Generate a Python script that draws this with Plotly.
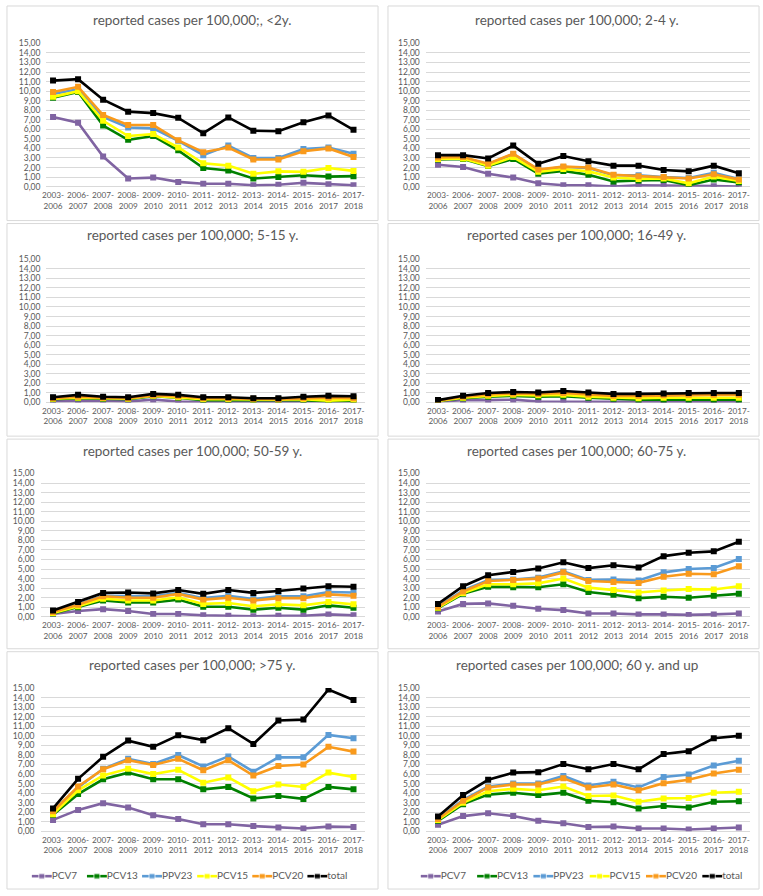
import plotly.graph_objects as go

# ---------------- data ----------------
categories = ["2003-2006", "2006-2007", "2007-2008", "2008-2009", "2009-2010", "2010-2011",
              "2011-2012", "2012-2013", "2013-2014", "2014-2015", "2015-2016", "2016-2017", "2017-2018"]
tick_labels = ["2003-<br>2006", "2006-<br>2007", "2007-<br>2008", "2008-<br>2009", "2009-<br>2010",
               "2010-<br>2011", "2011-<br>2012", "2012-<br>2013", "2013-<br>2014", "2014-<br>2015",
               "2015-<br>2016", "2016-<br>2017", "2017-<br>2018"]
series_names = ["PCV7", "PCV13", "PPV23", "PCV15", "PCV20", "total"]
panel_titles = ["reported cases per 100,000;, <2y.", "reported cases per 100,000; 2-4 y.",
                "reported cases per 100,000; 5-15 y.", "reported cases per 100,000; 16-49 y.",
                "reported cases per 100,000; 50-59 y.", "reported cases per 100,000; 60-75 y.",
                "reported cases per 100,000; >75 y.", "reported cases per 100,000; 60 y. and up"]

# <2 y
u2_pcv7 = [7.3, 6.7, 3.15, 0.85, 0.95, 0.5, 0.3, 0.3, 0.15, 0.2, 0.4, 0.25, 0.15]
u2_pcv13 = [9.3, 9.9, 6.4, 4.9, 5.3, 3.8, 1.95, 1.7, 0.85, 1.0, 1.2, 1.05, 1.1]
u2_ppv23 = [9.7, 10.2, 7.3, 6.2, 6.1, 4.8, 3.3, 4.3, 3.0, 3.0, 3.95, 4.1, 3.45]
u2_pcv15 = [9.4, 10.0, 6.9, 5.3, 5.5, 4.1, 2.45, 2.2, 1.35, 1.6, 1.55, 1.95, 1.65]
u2_pcv20 = [9.9, 10.45, 7.5, 6.45, 6.45, 4.85, 3.6, 4.1, 2.85, 2.85, 3.7, 4.0, 3.1]
u2_total = [11.1, 11.25, 9.1, 7.85, 7.7, 7.2, 5.6, 7.25, 5.85, 5.8, 6.75, 7.45, 5.95]

# 2-4 y
a24_pcv7 = [2.3, 2.05, 1.35, 0.95, 0.35, 0.15, 0.15, 0.0, 0.15, 0.15, 0.1, 0.05, 0.0]
a24_pcv13 = [2.85, 2.9, 2.15, 2.9, 1.35, 1.65, 1.25, 0.55, 0.65, 0.7, 0.15, 0.75, 0.45]
a24_ppv23 = [3.0, 3.05, 2.35, 3.4, 1.75, 2.05, 1.95, 1.2, 1.2, 1.0, 0.9, 1.45, 0.8]
a24_pcv15 = [2.9, 2.95, 2.2, 3.1, 1.55, 1.85, 1.6, 0.95, 0.8, 0.85, 0.35, 1.05, 0.6]
a24_pcv20 = [3.05, 3.1, 2.4, 3.45, 1.8, 2.1, 2.0, 1.25, 1.1, 1.0, 0.85, 1.3, 0.75]
a24_total = [3.3, 3.3, 2.95, 4.3, 2.4, 3.2, 2.65, 2.2, 2.2, 1.75, 1.6, 2.2, 1.4]

# 5-15 y
a515_pcv7 = [0.15, 0.2, 0.2, 0.1, 0.3, 0.1, 0.05, 0.1, 0.05, 0.05, 0.1, 0.1, 0.1]
a515_pcv13 = [0.35, 0.45, 0.4, 0.35, 0.65, 0.5, 0.25, 0.25, 0.2, 0.2, 0.25, 0.15, 0.2]
a515_ppv23 = [0.5, 0.65, 0.5, 0.45, 0.75, 0.65, 0.45, 0.45, 0.4, 0.4, 0.5, 0.55, 0.5]
a515_pcv15 = [0.4, 0.5, 0.45, 0.4, 0.7, 0.55, 0.35, 0.35, 0.3, 0.3, 0.35, 0.2, 0.3]
a515_pcv20 = [0.45, 0.6, 0.5, 0.45, 0.75, 0.65, 0.45, 0.45, 0.4, 0.35, 0.45, 0.5, 0.45]
a515_total = [0.55, 0.8, 0.6, 0.55, 0.9, 0.8, 0.55, 0.55, 0.45, 0.45, 0.6, 0.7, 0.65]

# 16-49 y
a1649_pcv7 = [0.1, 0.25, 0.25, 0.3, 0.1, 0.1, 0.05, 0.1, 0.05, 0.05, 0.05, 0.05, 0.05]
a1649_pcv13 = [0.15, 0.45, 0.6, 0.7, 0.6, 0.65, 0.5, 0.4, 0.3, 0.3, 0.3, 0.3, 0.3]
a1649_ppv23 = [0.2, 0.6, 0.9, 1.0, 0.95, 1.05, 0.9, 0.75, 0.75, 0.8, 0.85, 0.85, 0.85]
a1649_pcv15 = [0.15, 0.5, 0.7, 0.8, 0.75, 0.8, 0.6, 0.5, 0.45, 0.5, 0.5, 0.5, 0.5]
a1649_pcv20 = [0.2, 0.6, 0.85, 0.95, 0.9, 1.0, 0.85, 0.7, 0.7, 0.75, 0.8, 0.8, 0.8]
a1649_total = [0.25, 0.7, 1.0, 1.1, 1.05, 1.2, 1.05, 0.9, 0.9, 0.95, 1.0, 1.0, 1.0]

# 50-59 y
a5059_pcv7 = [0.3, 0.6, 0.8, 0.6, 0.3, 0.3, 0.15, 0.1, 0.05, 0.1, 0.1, 0.25, 0.15]
a5059_pcv13 = [0.35, 1.0, 1.7, 1.5, 1.5, 1.8, 1.05, 1.05, 0.75, 0.95, 0.75, 1.2, 0.95]
a5059_ppv23 = [0.5, 1.3, 2.2, 2.2, 2.15, 2.5, 1.95, 2.2, 1.85, 2.15, 2.15, 2.6, 2.55]
a5059_pcv15 = [0.4, 1.1, 1.9, 1.7, 1.7, 2.05, 1.35, 1.45, 1.1, 1.3, 1.2, 1.55, 1.3]
a5059_pcv20 = [0.5, 1.25, 2.15, 2.0, 2.0, 2.4, 1.8, 2.0, 1.7, 1.95, 1.95, 2.35, 2.2]
a5059_total = [0.65, 1.55, 2.5, 2.55, 2.45, 2.8, 2.4, 2.8, 2.5, 2.7, 2.95, 3.2, 3.15]

# 60-75 y
a6075_pcv7 = [0.55, 1.35, 1.4, 1.15, 0.85, 0.7, 0.35, 0.35, 0.25, 0.25, 0.2, 0.25, 0.35]
a6075_pcv13 = [0.9, 2.4, 3.15, 3.1, 3.1, 3.4, 2.6, 2.3, 1.95, 2.1, 2.0, 2.2, 2.4]
a6075_ppv23 = [1.1, 2.75, 3.85, 3.9, 4.1, 4.75, 3.85, 3.9, 3.8, 4.65, 5.0, 5.1, 6.05]
a6075_pcv15 = [0.95, 2.5, 3.4, 3.4, 3.5, 4.0, 3.05, 2.8, 2.55, 2.75, 2.9, 2.85, 3.2]
a6075_pcv20 = [1.05, 2.65, 3.75, 3.85, 4.0, 4.65, 3.75, 3.65, 3.55, 4.2, 4.5, 4.45, 5.3]
a6075_total = [1.35, 3.2, 4.35, 4.7, 5.05, 5.7, 5.1, 5.4, 5.15, 6.35, 6.7, 6.85, 7.85]

# >75 y
o75_pcv7 = [1.2, 2.25, 2.95, 2.5, 1.7, 1.3, 0.75, 0.75, 0.55, 0.4, 0.3, 0.5, 0.45]
o75_pcv13 = [1.75, 3.9, 5.45, 6.15, 5.45, 5.45, 4.4, 4.65, 3.45, 3.7, 3.4, 4.65, 4.4]
o75_ppv23 = [2.1, 4.6, 6.55, 7.6, 7.05, 8.0, 6.8, 7.85, 6.25, 7.75, 7.75, 10.1, 9.75]
o75_pcv15 = [1.8, 4.3, 5.85, 6.55, 6.0, 6.45, 5.1, 5.65, 4.2, 4.9, 4.65, 6.15, 5.7]
o75_pcv20 = [2.1, 4.7, 6.5, 7.45, 6.95, 7.6, 6.4, 7.45, 5.85, 6.85, 7.0, 8.85, 8.35]
o75_total = [2.4, 5.5, 7.8, 9.5, 8.85, 10.05, 9.55, 10.8, 9.15, 11.6, 11.7, 14.85, 13.75]

# 60 y and up
o60_pcv7 = [0.7, 1.6, 1.9, 1.6, 1.1, 0.85, 0.45, 0.5, 0.3, 0.3, 0.2, 0.3, 0.4]
o60_pcv13 = [1.1, 2.85, 3.85, 4.05, 3.8, 4.05, 3.2, 3.05, 2.4, 2.65, 2.5, 3.1, 3.15]
o60_ppv23 = [1.35, 3.3, 4.7, 5.0, 5.0, 5.8, 4.8, 5.2, 4.6, 5.7, 5.95, 6.9, 7.4]
o60_pcv15 = [1.2, 3.0, 4.2, 4.45, 4.3, 4.7, 3.7, 3.75, 3.1, 3.45, 3.5, 4.05, 4.15]
o60_pcv20 = [1.3, 3.2, 4.6, 4.9, 4.9, 5.55, 4.6, 4.9, 4.3, 5.05, 5.4, 6.05, 6.45]
o60_total = [1.55, 3.8, 5.4, 6.15, 6.2, 7.05, 6.5, 7.05, 6.5, 8.1, 8.4, 9.75, 10.0]

panels_data = [
    [u2_pcv7, u2_pcv13, u2_ppv23, u2_pcv15, u2_pcv20, u2_total],
    [a24_pcv7, a24_pcv13, a24_ppv23, a24_pcv15, a24_pcv20, a24_total],
    [a515_pcv7, a515_pcv13, a515_ppv23, a515_pcv15, a515_pcv20, a515_total],
    [a1649_pcv7, a1649_pcv13, a1649_ppv23, a1649_pcv15, a1649_pcv20, a1649_total],
    [a5059_pcv7, a5059_pcv13, a5059_ppv23, a5059_pcv15, a5059_pcv20, a5059_total],
    [a6075_pcv7, a6075_pcv13, a6075_ppv23, a6075_pcv15, a6075_pcv20, a6075_total],
    [o75_pcv7, o75_pcv13, o75_ppv23, o75_pcv15, o75_pcv20, o75_total],
    [o60_pcv7, o60_pcv13, o60_ppv23, o60_pcv15, o60_pcv20, o60_total],
]

# ---------------- style / layout ----------------
W, H = 763, 896
FONT = "Lato, 'Open Sans', sans-serif"
TXT = "#595959"
GRID = "#d9d9d9"
series_colors = ["#8064A2", "#008000", "#5B9BD5", "#FFFF00", "#F99A1C", "#000000"]

# plot-area pixel boxes per row (top, bottom) and per column
row_px = [(38.7, 183.7), (257.0, 402.0), (473.7, 618.7), (690.7, 835.7)]
title_px = [15, 233, 451, 667]
frame_rows = [(1, 218), (221, 436), (439, 651), (654, 894)]
frame_cols = [(3, 376), (386, 759)]
title_cx = [189, 576]

def col_geom(col, row):
    if col == 0:
        x0 = 42.7 if row < 2 else 36.7
        x1, p0, s = 363.0, 49.3, 25.17
    else:
        x0, x1, p0, s = 424.0, 750.3, 436.3, 25.2
    return x0, x1, [(x0 - p0) / s, (x1 - p0) / s]

fig = go.Figure()
layout = dict(
    width=W, height=H, margin=dict(l=0, r=0, t=0, b=0),
    paper_bgcolor="white", plot_bgcolor="rgba(0,0,0,0)",
    separators=",.", showlegend=False,
    font=dict(family=FONT, color=TXT),
)
annotations = []
shapes = []

for p in range(8):
    row, col = p // 2, p % 2
    n = p + 1
    xa = "x" if n == 1 else f"x{n}"
    ya = "y" if n == 1 else f"y{n}"
    x0, x1, xr = col_geom(col, row)
    top, bot = row_px[row]
    layout["xaxis" if n == 1 else f"xaxis{n}"] = dict(
        domain=[x0 / W, x1 / W], anchor=ya, type="category",
        range=xr, tickvals=categories, ticktext=tick_labels, tickangle=0,
        tickfont=dict(size=8.2, color=TXT, family=FONT), showgrid=False,
        showline=False, zeroline=False, ticks="", ticklabelstandoff=2,
    )
    layout["yaxis" if n == 1 else f"yaxis{n}"] = dict(
        domain=[1 - bot / H, 1 - top / H], anchor=xa,
        range=[0, 15.01], dtick=1, tick0=0, tickformat=".2f",
        tickfont=dict(size=8.5, color=TXT, family=FONT),
        showgrid=True, gridcolor=GRID, gridwidth=1,
        zeroline=True, zerolinecolor=GRID, zerolinewidth=1,
        showline=False, ticks="", ticklabelstandoff=5,
    )
    for name, vals, c in zip(series_names, panels_data[p], series_colors):
        fig.add_trace(go.Scatter(
            x=categories, y=vals, name=name, mode="lines+markers",
            line=dict(color=c, width=2.6),
            marker=dict(symbol="square", size=6, color=c),
            xaxis=xa, yaxis=ya, showlegend=False,
        ))
    annotations.append(dict(
        text=panel_titles[p], xref="paper", yref="paper",
        x=title_cx[col] / W, y=1 - title_px[row] / H,
        xanchor="center", yanchor="middle", showarrow=False,
        font=dict(size=13.5, color=TXT, family=FONT),
    ))
    fx0, fx1 = frame_cols[col]
    fy0, fy1 = frame_rows[row]
    shapes.append(dict(
        type="rect", xref="paper", yref="paper",
        x0=fx0 / W, x1=fx1 / W, y0=1 - fy1 / H, y1=1 - fy0 / H,
        line=dict(color=GRID, width=1), fillcolor="rgba(0,0,0,0)", layer="below",
    ))

# ---------------- legends (bottom row, one per panel) ----------------
layout["xaxis9"] = dict(domain=[0, 1], anchor="y9", range=[0, W], visible=False, fixedrange=True)
layout["yaxis9"] = dict(domain=[0, 1], anchor="x9", range=[H, 0], visible=False, fixedrange=True)
LEG_Y = 881
leg_starts = [38, 429]
leg_steps = [55.4, 56.6]
for side in range(2):
    for i, (name, c) in enumerate(zip(series_names, series_colors)):
        mx = leg_starts[side] + i * leg_steps[side]
        fig.add_trace(go.Scatter(
            x=[mx - 10, mx, mx + 10], y=[LEG_Y] * 3, mode="lines+markers+text",
            line=dict(color=c, width=2.6),
            marker=dict(symbol="square", size=[0, 6, 0], color=c),
            text=["", "", name], textposition="middle right",
            textfont=dict(size=10, color=TXT, family=FONT),
            xaxis="x9", yaxis="y9", showlegend=False, hoverinfo="skip",
        ))

layout["annotations"] = annotations
layout["shapes"] = shapes
fig.update_layout(**layout)
fig.write_html("out.html", config={"displayModeBar": False},
               post_script="document.body.style.margin='0';")
